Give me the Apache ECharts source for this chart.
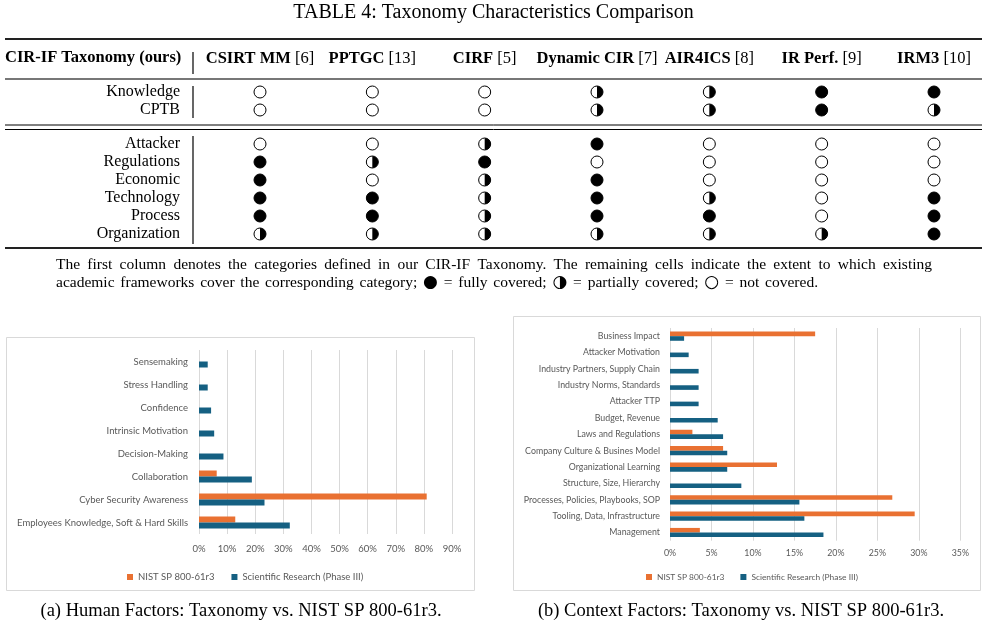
<!DOCTYPE html>
<html>
<head>
<meta charset="utf-8">
<script src="https://cdn.jsdelivr.net/npm/echarts@6/dist/echarts.min.js"></script>
<style>
  html, body { margin: 0; padding: 0; background: #fff; }
  #chart { width: 987px; height: 627px; }
</style>
</head>
<body>
<div id="chart"></div>
<script>
// Table 4 data
const frameworks = ['CSIRT MM', 'PPTGC', 'CIRF', 'Dynamic CIR', 'AIR4ICS', 'IR Perf.', 'IRM3'];
const frameworkRefs = ['[6]', '[13]', '[5]', '[7]', '[8]', '[9]', '[10]'];
const humanRows = ['Knowledge', 'CPTB'];
const contextRows = ['Attacker', 'Regulations', 'Economic', 'Technology', 'Process', 'Organization'];
// 0 = not covered, 1 = partially covered, 2 = fully covered
const humanCoverage = [
  [0, 0, 0, 1, 1, 2, 2],
  [0, 0, 0, 1, 1, 2, 1]
];
const contextCoverage = [
  [0, 0, 1, 2, 0, 0, 0],
  [2, 1, 2, 0, 0, 0, 0],
  [2, 0, 1, 2, 0, 0, 0],
  [2, 2, 1, 2, 1, 0, 2],
  [2, 2, 1, 2, 2, 0, 2],
  [1, 1, 1, 1, 1, 1, 2]
];

// (a) Human factors, bottom to top
const humanFactors = ['Employees Knowledge, Soft & Hard Skills', 'Cyber Security Awareness', 'Collaboration',
  'Decision-Making', 'Intrinsic Motivation', 'Confidence', 'Stress Handling', 'Sensemaking'];
const humanNist = [12.9, 81.0, 6.3, 0, 0, 0, 0, 0];
const humanResearch = [32.3, 23.3, 18.8, 8.7, 5.4, 4.3, 3.1, 3.1];
const humanTicks = [0, 90, 10];

// (b) Context factors, bottom to top
const contextFactors = ['Management', 'Tooling, Data, Infrastructure', 'Processes, Policies, Playbooks, SOP',
  'Structure, Size, Hierarchy', 'Organizational Learning', 'Company Culture & Busines Model',
  'Laws and Regulations', 'Budget, Revenue', 'Attacker TTP', 'Industry Norms, Standards',
  'Industry Partners, Supply Chain', 'Attacker Motivation', 'Business Impact'];
const contextNist = [3.6, 29.5, 26.8, 0, 12.9, 6.4, 2.7, 0, 0, 0, 0, 0, 17.5];
const contextResearch = [18.5, 16.2, 15.6, 8.6, 6.9, 6.9, 6.4, 5.75, 3.45, 3.45, 3.45, 2.25, 1.7];
const contextTicks = [0, 35, 5];

const seriesNames = ['NIST SP 800-61r3', 'Scientific Research (Phase III)'];

const noteLine1 = 'The first column denotes the categories defined in our CIR-IF Taxonomy. The remaining cells indicate the extent to which existing';
const noteLine2 = 'academic frameworks cover the corresponding category; \u25CF = fully covered; \u25D1 = partially covered; \u25CB = not covered.';

const serif = '"Liberation Serif", "Times New Roman", serif';
const symbolFont = '17px "DejaVu Sans", sans-serif';
const sans = 'Lato, "Noto Sans", sans-serif';
const ORANGE = '#E97132';
const BLUE = '#156082';
const GREY_TEXT = '#595959';
const GRID_LINE = '#d9d9d9';

const toCells = (matrix) => {
  const cells = [];
  matrix.forEach((row, r) => row.forEach((level, c) => cells.push([c, r, level])));
  return cells;
};

function renderCoverage(params, api) {
  const p = api.coord([api.value(0), api.value(1)]);
  const level = api.value(2);
  const r = 6;
  const children = [{
    type: 'circle',
    shape: { cx: p[0], cy: p[1], r: r },
    style: { fill: level === 2 ? '#000' : '#fff', stroke: '#000', lineWidth: 1 }
  }];
  if (level === 1) {
    children.push({
      type: 'sector',
      shape: { cx: p[0], cy: p[1], r: r, r0: 0, startAngle: -Math.PI / 2, endAngle: Math.PI / 2, clockwise: true },
      style: { fill: '#000' }
    });
  }
  return { type: 'group', children };
}

const tableYAxis = (rows, gridIndex) => ({
  type: 'category',
  gridIndex,
  data: rows,
  inverse: true,
  axisLine: { show: false },
  axisTick: { show: false },
  axisLabel: { interval: 0, margin: 80, fontFamily: serif, fontSize: 16, color: '#000' }
});

const barYAxis = (cats, gridIndex, fontSize, margin) => ({
  type: 'category',
  gridIndex,
  data: cats,
  axisLine: { show: false },
  axisTick: { show: false },
  axisLabel: { margin, fontFamily: sans, fontSize, color: GREY_TEXT, interval: 0 }
});

const barXAxis = (ticks, gridIndex, fontSize, margin) => ({
  type: 'value',
  gridIndex,
  min: ticks[0],
  max: ticks[1],
  interval: ticks[2],
  axisLine: { show: false },
  axisTick: { show: false },
  splitLine: { lineStyle: { color: GRID_LINE, width: 1 } },
  axisLabel: { margin, fontFamily: sans, fontSize, color: GREY_TEXT, formatter: '{value}%' }
});

const line = (x1, y1, x2, y2, width, color) => ({
  type: 'line', silent: true,
  shape: { x1, y1, x2, y2 },
  style: { stroke: color || '#000', lineWidth: width }
});

const text = (str, x, y, font, align) => ({
  type: 'text', silent: true,
  style: { text: str, x, y, font, fill: '#000', textAlign: align || 'left', align: align || 'left',
    textVerticalAlign: 'middle', verticalAlign: 'middle' }
});

// spread the words of a line between x0 and x1, like justified text
const measureCtx = document.createElement('canvas').getContext('2d');
function justified(str, x0, x1, y, font) {
  const words = str.split(' ').map(w => ({ w, font: /^[\u25CF\u25D1\u25CB]$/.test(w) ? symbolFont : font }));
  const widths = words.map(t => { measureCtx.font = t.font; return measureCtx.measureText(t.w).width; });
  const total = widths.reduce((a, b) => a + b, 0);
  const gap = (x1 - x0 - total) / (words.length - 1);
  let x = x0;
  return words.map((t, i) => {
    const el = text(t.w, x, y, t.font, 'left');
    x += widths[i] + gap;
    return el;
  });
}

const chart = echarts.init(document.getElementById('chart'));

chart.setOption({
  backgroundColor: '#fff',
  animation: false,
  grid: [
    { left: 260, right: 53, top: 83, height: 36 },
    { left: 260, right: 53, top: 135, height: 108 },
    { left: 199, right: 535, top: 350, height: 184 },
    { left: 670, right: 26.7, top: 328, height: 212.7 }
  ],
  xAxis: [
    {
      type: 'category', gridIndex: 0, position: 'top', boundaryGap: false, data: frameworks,
      axisLine: { show: false }, axisTick: { show: false },
      axisLabel: {
        interval: 0, margin: 24, verticalAlign: 'middle',
        fontFamily: serif, fontSize: 16.5, color: '#000',
        formatter: (v, i) => '{b|' + v + '} ' + frameworkRefs[i],
        rich: { b: { fontFamily: serif, fontSize: 16.5, fontWeight: 'bold', color: '#000' } }
      }
    },
    { type: 'category', gridIndex: 1, boundaryGap: false, data: frameworks, show: false },
    barXAxis(humanTicks, 2, 9.5, 10),
    barXAxis(contextTicks, 3, 8.8, 8)
  ],
  yAxis: [
    tableYAxis(humanRows, 0),
    tableYAxis(contextRows, 1),
    barYAxis(humanFactors, 2, 9.5, 11),
    barYAxis(contextFactors, 3, 8.8, 10)
  ],
  legend: [
    {
      data: seriesNames, left: 122, top: 567, icon: 'rect', itemWidth: 6, itemHeight: 6, itemGap: 17,
      textStyle: { fontFamily: sans, fontSize: 9.5, color: GREY_TEXT }
    },
    {
      data: seriesNames, left: 641, top: 568, icon: 'rect', itemWidth: 6, itemHeight: 6, itemGap: 16,
      textStyle: { fontFamily: sans, fontSize: 8.4, color: GREY_TEXT }
    }
  ],
  series: [
    { type: 'custom', xAxisIndex: 0, yAxisIndex: 0, renderItem: renderCoverage, data: toCells(humanCoverage) },
    { type: 'custom', xAxisIndex: 1, yAxisIndex: 1, renderItem: renderCoverage, data: toCells(contextCoverage) },
    {
      name: seriesNames[0], type: 'bar', xAxisIndex: 2, yAxisIndex: 2, data: humanNist,
      barWidth: 6, barGap: '0%', itemStyle: { color: ORANGE }
    },
    {
      name: seriesNames[1], type: 'bar', xAxisIndex: 2, yAxisIndex: 2, data: humanResearch,
      barWidth: 6, barGap: '0%', itemStyle: { color: BLUE }
    },
    {
      name: seriesNames[0], type: 'bar', xAxisIndex: 3, yAxisIndex: 3, data: contextNist,
      barWidth: 4.6, barGap: '0%', itemStyle: { color: ORANGE }
    },
    {
      name: seriesNames[1], type: 'bar', xAxisIndex: 3, yAxisIndex: 3, data: contextResearch,
      barWidth: 4.6, barGap: '0%', itemStyle: { color: BLUE }
    }
  ],
  graphic: [
    text('TABLE 4: Taxonomy Characteristics Comparison', 493.5, 13, '20px ' + serif, 'center'),
    text('CIR-IF Taxonomy (ours)', 5, 58, 'bold 16.5px ' + serif, 'left'),
    // table rules
    line(5, 39, 982, 39, 2, '#222'),
    line(5, 79, 982, 79, 2, '#777'),
    line(5, 125, 982, 125, 1, '#000'),
    line(5, 129.5, 982, 129.5, 1, '#000'),
    line(5, 248, 982, 248, 2, '#222'),
    line(193, 52, 193, 74, 1.2),
    line(193, 86, 193, 118, 1.2),
    line(193, 136, 193, 244, 1.2),
    // table note
    ...justified(noteLine1, 56, 932, 265, '15.5px ' + serif),
    ...justified(noteLine2, 56, 818, 283, '15.5px ' + serif),
    // chart frames
    { type: 'rect', silent: true, shape: { x: 6.5, y: 337.5, width: 468, height: 253 },
      style: { fill: 'none', stroke: GRID_LINE, lineWidth: 1 } },
    { type: 'rect', silent: true, shape: { x: 513.5, y: 316.5, width: 467, height: 274 },
      style: { fill: 'none', stroke: GRID_LINE, lineWidth: 1 } },
    // sub captions
    text('(a) Human Factors: Taxonomy vs. NIST SP 800-61r3.', 241, 611, '18.5px ' + serif, 'center'),
    text('(b) Context Factors: Taxonomy vs. NIST SP 800-61r3.', 741, 611, '18.5px ' + serif, 'center')
  ]
});

window.addEventListener('resize', () => chart.resize());
</script>
</body>
</html>
